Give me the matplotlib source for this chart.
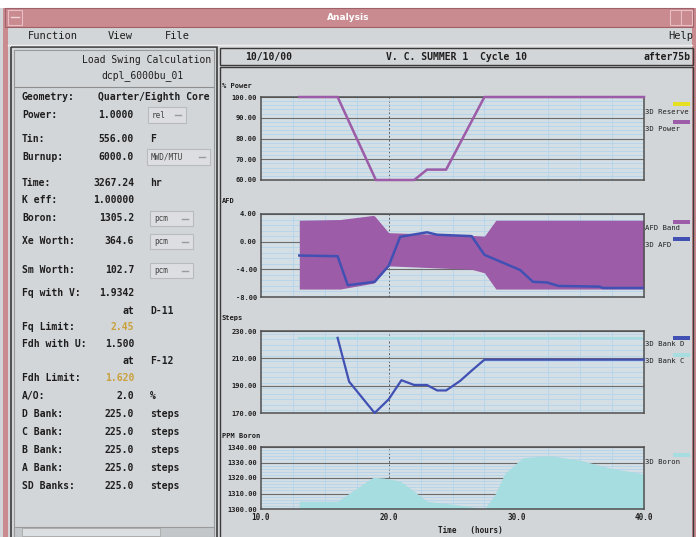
import matplotlib.pyplot as plt
from matplotlib.patches import Rectangle
from matplotlib.ticker import MultipleLocator, FormatStrFormatter

# ---- data ----
power_hours = [13, 16, 19, 22, 23, 24.5, 27.5, 40]
power_pct = [100, 100, 60, 60, 65, 65, 100, 100]

band_hours = [13, 16.2, 18.8, 18.9, 20, 26.5, 27.5, 28.4, 40]
band_upper = [3.1, 3.2, 3.8, 3.7, 1.3, 0.9, 0.8, 3.1, 3.1]
band_lower = [-6.85, -6.85, -6.0, -5.9, -3.5, -4.0, -4.5, -6.85, -6.85]

afd_hours = [13, 16, 16.8, 18.9, 20, 20.9, 23.0, 23.8, 26.5, 27.5, 30.3, 31.3,
             32.4, 33.3, 36.5, 36.8, 40]
afd = [-2.0, -2.1, -6.3, -5.8, -3.5, 0.7, 1.35, 1.0, 0.8, -1.9, -4.1, -5.8,
       -5.9, -6.4, -6.5, -6.7, -6.7]

bankd_hours = [16, 16.9, 18.9, 20, 21, 22, 23, 23.8, 24.5, 25.6, 26.5, 27.5, 40]
bankd_steps = [225, 193, 170, 180, 194, 190.5, 190.5, 186.5, 186.5, 193.5, 201, 209, 209]
bankc_hours = [13, 40]
bankc_steps = [225, 225]

boron_hours = [13, 16, 16.7, 17.7, 18.8, 19.6, 20.9, 21.9, 23.0, 25.6, 27.5, 28.3,
               29.1, 30.5, 32.5, 35.0, 37.3, 40]
boron_ppm = [1305, 1305, 1309, 1314.5, 1320.5, 1320, 1318, 1312, 1305, 1302.5, 1300,
             1309, 1323, 1333, 1334.5, 1331.5, 1326.5, 1322.5]

x_ticks = [10, 20, 30, 40]

info_rows = [
    ("Geometry:", "Quarter/Eighth Core", "", 97),
    ("Power:", "1.0000", "", 115),
    ("Tin:", "556.00", "F", 139),
    ("Burnup:", "6000.0", "", 157),
    ("Time:", "3267.24", "hr", 183),
    ("K eff:", "1.00000", "", 200),
    ("Boron:", "1305.2", "", 218),
    ("Xe Worth:", "364.6", "", 241),
    ("Sm Worth:", "102.7", "", 270),
    ("Fq with V:", "1.9342", "", 293),
    ("", "at", "D-11", 311),
    ("Fq Limit:", "2.45", "", 327),
    ("Fdh with U:", "1.500", "", 344),
    ("", "at", "F-12", 361),
    ("Fdh Limit:", "1.620", "", 378),
    ("A/O:", "2.0", "%", 396),
    ("D Bank:", "225.0", "steps", 414),
    ("C Bank:", "225.0", "steps", 432),
    ("B Bank:", "225.0", "steps", 450),
    ("A Bank:", "225.0", "steps", 468),
    ("SD Banks:", "225.0", "steps", 486),
]
buttons = [("rel", 148, 186, 107, 123), ("MWD/MTU", 147, 210, 149, 165),
           ("pcm", 150, 193, 211, 226), ("pcm", 150, 193, 234, 249),
           ("pcm", 150, 193, 263, 278)]

# ---- styles ----
W, H = 696, 537
GRAY = '#d3d6d9'
PINK = '#c98a90'
DARK = '#1e1e1e'
PLOT_BG = '#d4dee5'
LBLUE = '#b3d4ea'
PURPLE = '#9c5ca8'
BLUE = '#4151b3'
CYAN = '#a6dde0'
YELLOW = '#e6e020'
ORANGE = '#c9a13c'
MONO = 'DejaVu Sans Mono'

fig = plt.figure(figsize=(W / 100, H / 100), dpi=100)
fig.patch.set_facecolor(GRAY)

bg = fig.add_axes([0, 0, 1, 1])
bg.set_xlim(0, W)
bg.set_ylim(H, 0)
bg.axis('off')


def box(x0, y0, x1, y1, fc='none', ec='#555555', lw=1.0, z=1):
    bg.add_patch(Rectangle((x0, y0), x1 - x0, y1 - y0, facecolor=fc,
                           edgecolor=ec, lw=lw, zorder=z))


def txt(x, y, s, ha='left', size=7, color=DARK, weight='bold', family=MONO):
    bg.text(x, y, s, ha=ha, va='center', fontsize=size, color=color,
            fontweight=weight, family=family, zorder=5)


# window chrome
box(0, 0, W, 8, fc='white', ec='none')
box(3, 8, 8, H, fc=PINK, ec='none')
box(692, 8, W, H, fc=PINK, ec='none')
box(5, 8, 693, 27, fc=PINK, ec='#a06068', lw=0.8)
box(8, 10, 22, 25, fc=PINK, ec='#e8c0c4', lw=0.8)
bg.plot([11, 19], [17, 17], color='#f0d8da', lw=1, zorder=6)
box(670, 10, 681, 25, fc=PINK, ec='#e8c0c4', lw=0.8)
box(681, 10, 692, 25, fc=PINK, ec='#e8c0c4', lw=0.8)
txt(348, 18, "Analysis", ha='center', size=6.5, color='white', family='DejaVu Sans')

# menu bar
txt(28, 36, "Function", size=7.5, weight='normal')
txt(108, 36, "View", size=7.5, weight='normal')
txt(165, 36, "File", size=7.5, weight='normal')
txt(668, 36, "Help", size=7.5, weight='normal')
bg.plot([8, 692], [45, 45], color='#eeeeee', lw=1, zorder=2)

# left info panel
box(11, 47, 217, 540, ec='#3a3a3a', lw=1.2)
box(14, 50, 214, 540, ec='#9a9a9a', lw=0.8)
txt(211, 60, "Load Swing Calculation", ha='right', weight='normal')
txt(143, 76, "dcpl_6000bu_01", ha='center', weight='normal')
bg.plot([15, 213], [87, 87], color='#8e8e8e', lw=0.8, zorder=2)
for label, value, unit, y in info_rows:
    if label:
        txt(22, y, label)
    color = ORANGE if label in ("Fq Limit:", "Fdh Limit:") else DARK
    if label == "Geometry:":
        txt(210, y, value, ha='right')
    elif label == "Power:":
        txt(98, y, value)
    else:
        txt(134, y, value, ha='right', color=color)
    if unit:
        txt(150, y, unit)
for label, x0, x1, y0, y1 in buttons:
    box(x0, y0, x1, y1, fc='#dcdee1', ec='#b8babd', lw=0.8)
    txt(x0 + 4, (y0 + y1) / 2, label, size=5.5, weight='normal', color='#404040')
    bg.plot([x1 - 11, x1 - 5], [(y0 + y1) / 2] * 2, color='#9a9a9a', lw=1, zorder=6)

# scrollbar
box(14, 527, 214, 537, fc='#c4c7ca', ec='#9a9a9a', lw=0.8)
box(22, 528, 160, 536, fc='#dcdfe2', ec='#a8a8a8', lw=0.6)

# right header
box(220, 48, 693, 65, ec='#3a3a3a', lw=1.0)
txt(245, 57, "10/10/00")
txt(456, 57, "V. C. SUMMER 1  Cycle 10", ha='center')
txt(690, 57, "after75b", ha='right')
box(220, 67, 693, 540, ec='#3a3a3a', lw=1.0)

# panel titles and legend swatches
txt(222, 86, "% Power", size=5)
txt(222, 201, "AFD", size=5)
txt(222, 318, "Steps", size=5)
txt(222, 436, "PPM Boron", size=5)
txt(470, 531, "Time   (hours)", ha='center', size=5.5)

legend_items = [
    ("3D Reserve", YELLOW, 104, 112), ("3D Power", PURPLE, 122, 129),
    ("AFD Band", PURPLE, 222, 228), ("3D AFD", BLUE, 239, 245),
    ("3D Bank D", BLUE, 338, 344), ("3D Bank C", CYAN, 355, 361),
    ("3D Boron", CYAN, 455, 462),
]
for label, color, ys, yt in legend_items:
    box(673, ys - 2, 690, ys + 1.5, fc=color, ec='none', z=3)
    txt(645, yt, label, size=5.2, weight='normal')


def panel(y0, y1, ylo, yhi, step):
    ax = fig.add_axes([261 / W, 1 - y1 / H, (644 - 261) / W, (y1 - y0) / H])
    ax.set_facecolor(PLOT_BG)
    ax.set_xlim(10, 40)
    ax.set_ylim(ylo, yhi)
    ax.set_xticks(x_ticks)
    ax.set_yticks(range(ylo, yhi + 1, step))
    ax.xaxis.set_minor_locator(MultipleLocator(2.5))
    ax.yaxis.set_minor_locator(MultipleLocator(step / 5))
    ax.yaxis.set_major_formatter(FormatStrFormatter('%.2f'))
    ax.set_axisbelow(True)
    ax.grid(which='minor', color=LBLUE, lw=0.6)
    ax.grid(which='major', axis='y', color='#6c6c6c', lw=0.8)
    ax.axvline(20, color='#5a5a5a', ls=(0, (2, 2)), lw=0.7, zorder=0.5)
    ax.tick_params(which='both', length=0, labelsize=5, pad=3, colors=DARK)
    ax.tick_params(axis='x', labelbottom=False)
    for label in ax.get_yticklabels():
        label.set_family(MONO)
        label.set_fontweight('bold')
    for s in ax.spines.values():
        s.set_color('#505050')
        s.set_linewidth(1.1)
    return ax


ax1 = panel(97, 180, 60, 100, 10)
ax1.plot(power_hours, power_pct, color=PURPLE, lw=1.8, clip_on=False, zorder=4)

ax2 = panel(214, 297, -8, 4, 4)
ax2.fill_between(band_hours, band_lower, band_upper, color=PURPLE, lw=0, zorder=2)
ax2.plot(afd_hours, afd, color=BLUE, lw=1.8, zorder=3)

ax3 = panel(331, 413, 170, 230, 20)
ax3.plot(bankc_hours, bankc_steps, color=CYAN, lw=1.5)
ax3.plot(bankd_hours, bankd_steps, color=BLUE, lw=1.6, clip_on=False, zorder=4)

ax4 = panel(447, 509, 1300, 1340, 10)
ax4.fill_between(boron_hours, 1300, boron_ppm, color=CYAN, lw=0, zorder=2)
ax4.tick_params(axis='x', labelbottom=True, labelsize=5.5, pad=3)
ax4.xaxis.set_major_formatter(FormatStrFormatter('%.1f'))
for label in ax4.get_xticklabels():
    label.set_family(MONO)
    label.set_fontweight('bold')

fig.savefig('out.png', dpi=100, facecolor=fig.get_facecolor())
